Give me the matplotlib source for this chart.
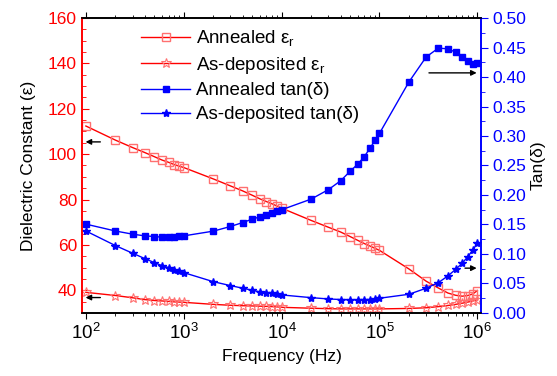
import numpy as np
import matplotlib
matplotlib.use("Agg")
import matplotlib.pyplot as plt

plt.rcParams['font.family'] = ['Liberation Sans', 'DejaVu Sans']
plt.rcParams['mathtext.default'] = 'regular'

# frequencies: 1..9 per decade, 100 Hz to 1 MHz
freq = [m * 10 ** d for d in range(2, 6) for m in range(1, 10)] + [1e6]

annealed_eps = [112.4, 106.2, 102.9, 100.7, 98.9, 97.4, 96.4, 95.4, 94.7,
                94.1, 89.1, 86.0, 83.8, 81.9, 80.3, 79.1, 78.1, 77.1,
                76.2, 70.8, 67.8, 65.7, 63.7, 62.0, 60.6, 59.5, 58.5,
                57.6, 49.4, 44.0, 41.0, 38.8, 37.8, 37.4, 37.7, 38.4,
                39.9]
asdep_eps = [39.1, 37.7, 36.7, 35.9, 35.5, 35.3, 35.1, 34.9, 34.8,
             34.7, 33.8, 33.4, 33.2, 33.1, 33.0, 32.9, 32.8, 32.7,
             32.5, 32.1, 31.9, 31.8, 31.8, 31.8, 31.8, 31.8, 31.8,
             31.8, 32.0, 32.3, 32.8, 33.3, 33.8, 34.3, 34.8, 35.3,
             35.9]
annealed_tan = [0.1506, 0.139, 0.1336, 0.1307, 0.1296, 0.1285, 0.1290, 0.1295, 0.1300,
                0.1307, 0.1387, 0.1466, 0.1533, 0.159, 0.163, 0.1664, 0.170, 0.1726,
                0.175, 0.193, 0.209, 0.224, 0.240, 0.2524, 0.265, 0.2795, 0.2925,
                0.3045, 0.3917, 0.434, 0.449, 0.4477, 0.442, 0.434, 0.4267, 0.4222,
                0.424]
asdep_tan = [0.139, 0.1143, 0.1013, 0.0922, 0.0854, 0.0803, 0.0769, 0.0735, 0.0708,
             0.0684, 0.0531, 0.0464, 0.042, 0.0385, 0.0357, 0.0345, 0.0338, 0.0330,
             0.0306, 0.026, 0.0238, 0.0228, 0.0226, 0.0226, 0.0226, 0.0228, 0.0232,
             0.025, 0.0317, 0.042, 0.0515, 0.0628, 0.074, 0.0843, 0.0956, 0.107,
             0.1183]

red = '#ff0000'
pink = '#ff7070'
blue = '#0000ff'

fig = plt.figure(figsize=(5.57, 3.76), dpi=100)
ax = fig.add_axes([0.147, 0.1676, 0.7166, 0.7845])
ax2 = ax.twinx()

l1, = ax.plot(freq, annealed_eps, color=red, lw=1, marker='s', ms=5.2,
              mfc='none', mec=pink, mew=1, label=r'Annealed ε$_r$')
l2, = ax.plot(freq, asdep_eps, color=red, lw=1, marker='*', ms=7,
              mfc='none', mec=pink, mew=0.8, label=r'As-deposited ε$_r$')
l3, = ax2.plot(freq, annealed_tan, color=blue, lw=1, marker='s', ms=4.3,
               mfc=blue, mec=blue, label='Annealed tan(δ)')
l4, = ax2.plot(freq, asdep_tan, color=blue, lw=1, marker='*', ms=6,
               mfc=blue, mec=blue, label='As-deposited tan(δ)')

ax.set_xscale('log')
ax.set_xlim(91, 1.09e6)
ax.set_ylim(30, 160)
ax2.set_ylim(0, 0.5)
ax.set_yticks(np.arange(40, 161, 20))
ax.set_yticks(np.arange(30, 161, 5), minor=True)
ax2.set_yticks(np.arange(0, 0.51, 0.05))
ax2.set_yticks(np.arange(0, 0.51, 0.025), minor=True)
ax2.yaxis.set_major_formatter(matplotlib.ticker.FormatStrFormatter('%.2f'))

ax.set_xlabel('Frequency (Hz)', fontsize=12.5)
ax.set_ylabel('Dielectric Constant (ε)', fontsize=12.5, labelpad=9)
ax2.set_ylabel('Tan(δ)', fontsize=12.5, labelpad=3)

ax.tick_params(axis='x', which='both', direction='out', top=True, labelsize=13.5)
ax.tick_params(axis='x', which='major', length=4)
ax.tick_params(axis='x', which='minor', length=2.5)
ax.tick_params(axis='y', which='both', direction='in', colors=red, labelsize=12.5)
ax.tick_params(axis='y', which='major', length=5)
ax.tick_params(axis='y', which='minor', length=3)
ax2.tick_params(axis='y', which='both', direction='out', colors=blue, labelsize=12.5)
ax2.tick_params(axis='y', which='major', length=5)
ax2.tick_params(axis='y', which='minor', length=3)

ax.spines['left'].set_color(red)
ax2.spines['left'].set_color(red)
ax2.spines['right'].set_color(blue)
ax.spines['right'].set_color(blue)
for a in (ax, ax2):
    for s in a.spines.values():
        s.set_linewidth(1.2)

# arrows pointing to the relevant axes
arrow = dict(arrowstyle='-|>', color='black', lw=1, mutation_scale=8)
ax.annotate('', xy=(93, 105.4), xytext=(150, 105.4), arrowprops=arrow)
ax.annotate('', xy=(93, 36.8), xytext=(150, 36.8), arrowprops=arrow)
ax2.annotate('', xy=(1.05e6, 0.407), xytext=(3.0e5, 0.407), arrowprops=arrow)
ax2.annotate('', xy=(1.05e6, 0.076), xytext=(7.0e5, 0.076), arrowprops=arrow)

ax2.legend(handles=[l1, l2, l3, l4], loc='upper left',
           bbox_to_anchor=(0.24, 0.945), bbox_transform=fig.transFigure,
           frameon=False, fontsize=13.5, handlelength=2.6,
           handletextpad=0.3, labelspacing=0.35, borderaxespad=0)

fig.savefig('out.png', dpi=100)
